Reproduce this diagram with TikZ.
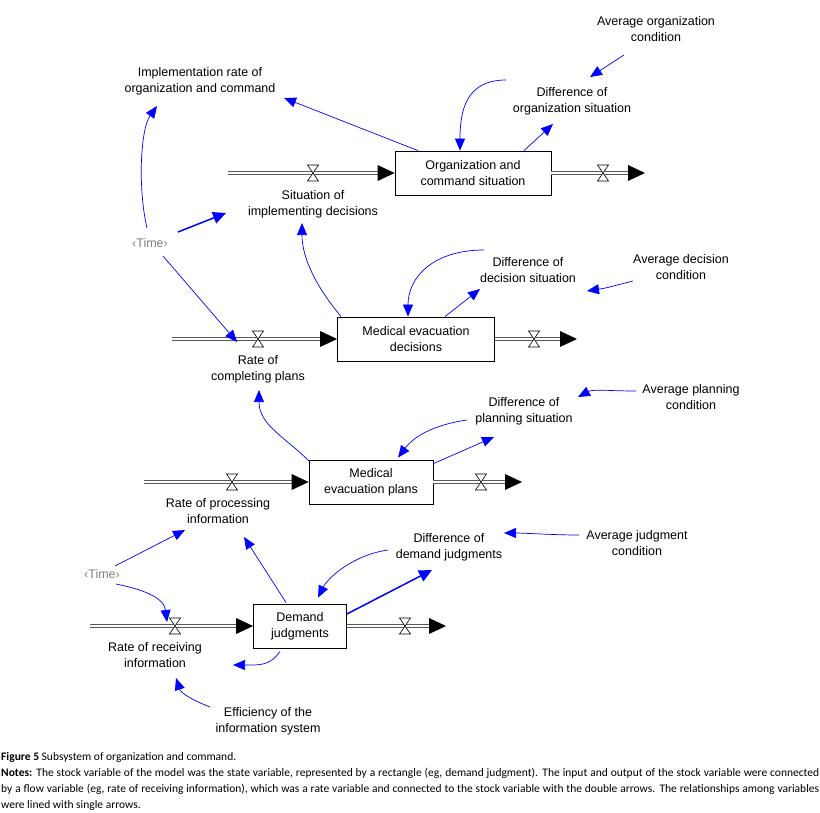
\documentclass[tikz,border=0pt]{standalone}
\usepackage{fontspec}
\setmainfont{Liberation Sans}
\newfontfamily\capfont{Carlito}
\usepackage{tikz}
\usetikzlibrary{arrows.meta, calc, positioning}

% double pipe with a filled head, from #1 to #2
\newcommand{\flowpipe}[2]{%
  \draw[pipe] (#1) -- ($(#2)+(-15,0)$);
  \fill[pipetip] (#2) -- ++(-17,-8) -- ++(0,16) -- cycle;}

\begin{document}
\begin{tikzpicture}[
    x=1pt, y=-1pt,
    every node/.style={font=\fontsize{12.5}{16}\selectfont},
    stock/.style={rectangle, draw=black, line width=0.8pt, fill=white, align=center, minimum height=44pt, inner sep=2pt},
    var/.style={align=center, inner sep=2pt},
    shadow/.style={var, text=black!50},
    link/.style={draw=blue, line width=0.7pt, -{Triangle[length=12pt,width=10pt]}},
    boldlink/.style={link, line width=1.5pt, -{Triangle[length=13pt,width=12pt]}},
    pipe/.style={draw=black!65, line width=0.8pt, double=white, double distance=2.4pt},
    pipetip/.style={fill=black},
    valve/.pic={\filldraw[fill=white, draw=black, line width=0.6pt] (-5.5,-8) -- (5.5,-8) -- (-5.5,8) -- (5.5,8) -- cycle;}
]
\useasboundingbox (0,0) rectangle (820,812);
% Stocks
\node[stock, minimum width=156pt] (org) at (473,173) {Organization and\\command situation};
\node[stock, minimum width=157pt] (dec) at (416,339) {Medical evacuation\\decisions};
\node[stock, minimum width=124pt] (plan) at (371,482) {Medical\\evacuation plans};
\node[stock, minimum width=93pt] (dem) at (300,626) {Demand\\judgments};
% Pipe ends and valves
\coordinate (src1) at (228,173); \coordinate (snk1) at (645,173);
\coordinate (src2) at (172,339); \coordinate (snk2) at (577,339);
\coordinate (src3) at (144,482); \coordinate (snk3) at (522,482);
\coordinate (src4) at (90,626);  \coordinate (snk4) at (446,626);
\coordinate (v1in) at (313,173); \coordinate (v1out) at (603,173);
\coordinate (v2in) at (258,339); \coordinate (v2out) at (534,339);
\coordinate (v3in) at (232,482); \coordinate (v3out) at (481,482);
\coordinate (v4in) at (175,626); \coordinate (v4out) at (405,626);
% Pipes
\flowpipe{src1}{org.west} \flowpipe{org.east}{snk1}
\flowpipe{src2}{dec.west} \flowpipe{dec.east}{snk2}
\flowpipe{src3}{plan.west} \flowpipe{plan.east}{snk3}
\flowpipe{src4}{dem.west} \flowpipe{dem.east}{snk4}
\foreach \v in {v1in,v1out,v2in,v2out,v3in,v3out,v4in,v4out}
  \pic at (\v) {valve};
% Variables
\node[var] (impl) at (200,81) {Implementation rate of\\organization and command};
\node[var] (sitdec) at (313,204) {Situation of\\implementing decisions};
\node[var] (difforg) at (572,101) {Difference of\\organization situation};
\node[var] (avgorg) at (656,29) {Average organization\\condition};
\node[shadow] (time1) at (150,243) {‹Time›};
\node[var] (rcomp) at (258,369) {Rate of\\completing plans};
\node[var] (diffdec) at (528,270) {Difference of\\decision situation};
\node[var] (avgdec) at (681,267) {Average decision\\condition};
\node[var] (rproc) at (218,511) {Rate of processing\\information};
\node[var] (diffplan) at (524,411) {Difference of\\planning situation};
\node[var] (avgplan) at (691,397) {Average planning\\condition};
\node[var] (diffdem) at (449,547) {Difference of\\demand judgments};
\node[var] (avgjudg) at (637,543) {Average judgment\\condition};
\node[shadow] (time2) at (102,574) {‹Time›};
\node[var] (rrecv) at (155,655) {Rate of receiving\\information};
\node[var] (effic) at (268,721) {Efficiency of the\\information system};
% Links - organization
\draw[link] ($(avgorg)+(-32,26)$) -- ($(difforg)+(18,-24)$);
\draw[link] ($(difforg)+(-66,-21)$) .. controls +(-40,0) and +(0,-40) .. ($(org.north)+(-13,0)$);
\draw[link] ($(org.north)+(51,0)$) -- ($(difforg)+(-19,23)$);
\draw[link] ($(org.north)+(-55,0)$) -- ($(impl)+(84,17)$);
\draw[link] ($(time1)+(-3,-15)$) .. controls +(-9,-38) and +(-17,24) .. ($(impl)+(-43,25)$);
\draw[boldlink] ($(time1)+(28,-11)$) -- ($(sitdec)+(-87,9)$);
\draw[link] ($(time1)+(13,13)$) -- ($(rcomp)+(-21,-27)$);
% Links - decisions
\draw[link] ($(dec.north west)+(4,0)$) .. controls +(-25,-30) and +(0,35) .. ($(sitdec)+(-11,19)$);
\draw[link] ($(diffdec)+(-44,-20)$) .. controls +(-50,0) and +(0,-40) .. ($(dec.north)+(-8,0)$);
\draw[link] ($(dec.north)+(29,0)$) -- ($(diffdec)+(-48,19)$);
\draw[link] ($(avgdec)+(-48,14)$) .. controls +(-20,5) and +(20,-3) .. ($(diffdec)+(59,21)$);
% Links - plans
\draw[link] ($(plan.north west)+(1,2)$) .. controls +(-25,-25) and +(0,35) .. ($(rcomp)+(1,21)$);
\draw[link] ($(diffplan)+(-57,9)$) .. controls +(-35,5) and +(15,-20) .. ($(plan.north)+(27,-2)$);
\draw[link] ($(plan.north east)+(0,4)$) -- ($(diffplan)+(-30,26)$);
\draw[link] ($(avgplan)+(-55,-6)$) .. controls +(-25,0) and +(15,-8) .. ($(diffplan)+(54,-14)$);
% Links - judgments
\draw[link] ($(time2)+(13,-8)$) -- ($(rproc)+(-33,19)$);
\draw[link] ($(dem.north west)+(33,-1)$) -- ($(rproc)+(26,26)$);
\draw[link] ($(diffdem)+(-61,3)$) .. controls +(-35,5) and +(10,-20) .. ($(dem.north)+(18,-6)$);
\draw[boldlink] ($(dem.east)+(0,-12)$) -- ($(diffdem)+(-17,23)$);
\draw[link] ($(avgjudg)+(-58,-8)$) .. controls +(-25,0) and +(20,0) .. ($(diffdem)+(55,-14)$);
\draw[link] ($(time2)+(14,10)$) .. controls +(25,5) and +(-3,-25) .. ($(v4in)+(-8,-4)$);
\draw[link] ($(dem.south)+(-20,3)$) .. controls +(-10,15) and +(25,0) .. ($(rrecv)+(78,10)$);
\draw[link] ($(effic)+(-58,-14)$) .. controls +(-20,-8) and +(5,15) .. ($(rrecv)+(21,23)$);
% Caption
\node[anchor=north west, inner sep=0pt, text width=818pt, align=justify, font=\capfont\fontsize{11.5}{16}\selectfont] (caption) at (1,752)
  {\textbf{Figure 5} Subsystem of organization and command.\\
   \textbf{Notes:} The stock variable of the model was the state variable, represented by a rectangle (eg, demand judgment). The input and output of the stock variable were connected\linebreak
   by a flow variable (eg, rate of receiving information), which was a rate variable and connected to the stock variable with the double arrows. The relationships among variables\linebreak
   were lined with single arrows.};
\end{tikzpicture}
\end{document}
